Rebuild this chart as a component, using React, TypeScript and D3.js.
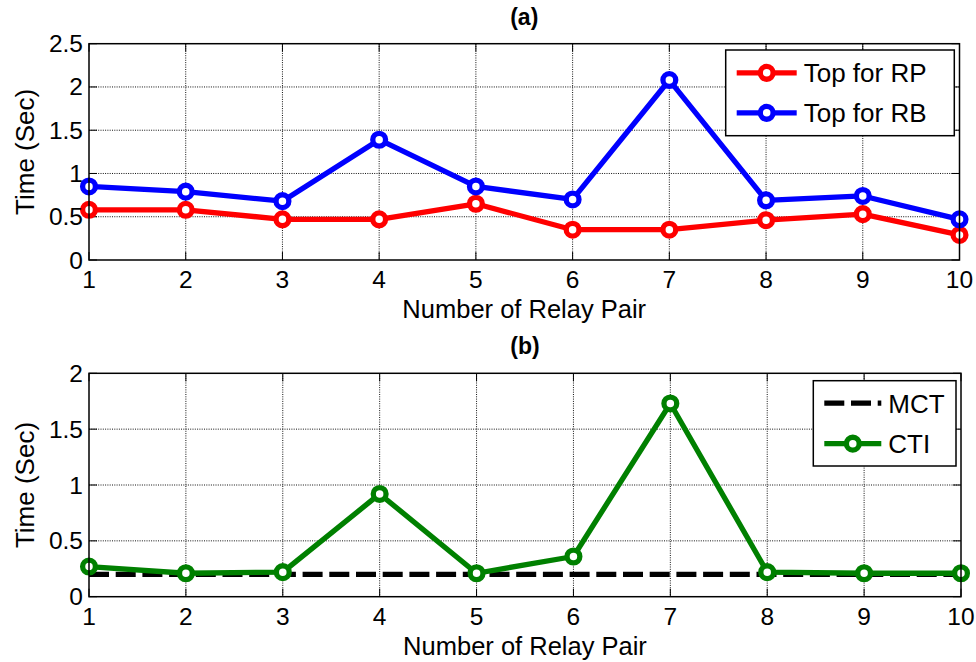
import React from "react";
import * as d3 from "d3";

// relay pair numbers (x axis)
const pairs = [1, 2, 3, 4, 5, 6, 7, 8, 9, 10];

// (a) operating times
const topRP = [0.58, 0.58, 0.47, 0.47, 0.65, 0.35, 0.35, 0.46, 0.53, 0.29];
const topRB = [0.85, 0.79, 0.68, 1.39, 0.85, 0.7, 2.08, 0.69, 0.74, 0.47];

// (b) coordination intervals
const mct = [0.2, 0.2, 0.2, 0.2, 0.2, 0.2, 0.2, 0.2, 0.2, 0.2];
const cti = [0.27, 0.21, 0.22, 0.92, 0.21, 0.36, 1.73, 0.22, 0.21, 0.21];

const yTicksA = [0, 0.5, 1, 1.5, 2, 2.5];
const yTicksB = [0, 0.5, 1, 1.5, 2];

const FONT = "Arial, 'Liberation Sans', Helvetica, sans-serif";

type Series = {
  name: string;
  values: number[];
  color: string;
  dashed?: boolean;
  marker?: boolean;
};

type LegendBox = { x: number; y: number; w: number; h: number; rowH: number };

const LW = 5.3;

const Panel = ({
  title,
  top,
  bottom,
  left,
  right,
  yMax,
  yTicks,
  series,
  legend,
}: {
  title: string;
  top: number;
  bottom: number;
  left: number;
  right: number;
  yMax: number;
  yTicks: number[];
  series: Series[];
  legend: LegendBox;
}) => {
  const x = d3.scaleLinear().domain([1, 10]).range([left, right]);
  const y = d3.scaleLinear().domain([0, yMax]).range([bottom, top]);
  const tick = 8;

  const line = (vals: number[]) =>
    d3
      .line<number>()
      .x((d, i) => x(pairs[i]))
      .y((d) => y(d))(vals) || "";

  return (
    <g fontFamily={FONT}>
      {/* title */}
      <text x={(left + right) / 2} y={top - 19} textAnchor="middle" fontSize={23} fontWeight="bold">
        {title}
      </text>

      {/* grid */}
      {pairs.slice(1, -1).map((p) => (
        <line key={"gx" + p} x1={x(p)} x2={x(p)} y1={top} y2={bottom} stroke="#111" strokeWidth={1} strokeDasharray="1,1.3" />
      ))}
      {yTicks.slice(1, -1).map((t) => (
        <line key={"gy" + t} x1={left} x2={right} y1={y(t)} y2={y(t)} stroke="#111" strokeWidth={1} strokeDasharray="1,1.3" />
      ))}

      {/* inner ticks on all four sides */}
      {pairs.map((p) => (
        <g key={"tx" + p}>
          <line x1={x(p)} x2={x(p)} y1={bottom} y2={bottom - tick} stroke="#000" />
          <line x1={x(p)} x2={x(p)} y1={top} y2={top + tick} stroke="#000" />
        </g>
      ))}
      {yTicks.map((t) => (
        <g key={"ty" + t}>
          <line x1={left} x2={left + tick} y1={y(t)} y2={y(t)} stroke="#000" />
          <line x1={right} x2={right - tick} y1={y(t)} y2={y(t)} stroke="#000" />
        </g>
      ))}

      {/* series lines */}
      {series.map((s) => (
        <path
          key={"l" + s.name}
          d={line(s.values)}
          fill="none"
          stroke={s.color}
          strokeWidth={LW}
          strokeDasharray={s.dashed ? "20,6.7" : undefined}
          strokeLinejoin="round"
        />
      ))}
      {series
        .filter((s) => s.marker)
        .map((s) =>
          s.values.map((v, i) => (
            <circle key={s.name + i} cx={x(pairs[i])} cy={y(v)} r={6.4} fill="#fff" stroke={s.color} strokeWidth={LW} />
          ))
        )}

      {/* axes box */}
      <rect x={left} y={top} width={right - left} height={bottom - top} fill="none" stroke="#000" strokeWidth={1.5} />

      {/* tick labels */}
      {pairs.map((p) => (
        <text key={"lx" + p} x={x(p)} y={bottom + 28} textAnchor="middle" fontSize={24.5}>
          {p}
        </text>
      ))}
      {yTicks.map((t) => (
        <text key={"ly" + t} x={left - 6} y={y(t) + 8.5} textAnchor="end" fontSize={24.5}>
          {t}
        </text>
      ))}

      {/* axis labels */}
      <text x={(left + right) / 2} y={bottom + 58} textAnchor="middle" fontSize={25.5}>
        Number of Relay Pair
      </text>
      <text
        transform={`translate(${left - 55},${(top + bottom) / 2}) rotate(-90)`}
        textAnchor="middle"
        fontSize={26}
      >
        Time (Sec)
      </text>

      {/* legend */}
      <rect x={legend.x} y={legend.y} width={legend.w} height={legend.h} fill="#fff" stroke="#000" strokeWidth={1.5} />
      {series.map((s, i) => {
        const cy = legend.y + legend.h / 2 + (i - (series.length - 1) / 2) * legend.rowH;
        const x0 = legend.x + 11;
        const x1 = x0 + (legend.w > 200 ? 60 : 57);
        return (
          <g key={"lg" + s.name}>
            <line
              x1={x0}
              x2={x1}
              y1={cy}
              y2={cy}
              stroke={s.color}
              strokeWidth={LW}
              strokeDasharray={s.dashed ? "20,6.7" : undefined}
            />
            {s.marker && (
              <circle cx={(x0 + x1) / 2} cy={cy} r={6.4} fill="#fff" stroke={s.color} strokeWidth={LW} />
            )}
            <text x={x1 + 7} y={cy + 9.5} fontSize={26}>
              {s.name}
            </text>
          </g>
        );
      })}
    </g>
  );
};

export default function App() {
  return (
    <svg
      width={976}
      height={662}
      style={{ position: "absolute", left: 0, top: 0, background: "#fff" }}
    >
      <rect width={976} height={662} fill="#fff" />
      <Panel
        title="(a)"
        top={43.7}
        bottom={260}
        left={89}
        right={959.5}
        yMax={2.5}
        yTicks={yTicksA}
        series={[
          { name: "Top for RP", values: topRP, color: "#ff0000", marker: true },
          { name: "Top for RB", values: topRB, color: "#0000ff", marker: true },
        ]}
        legend={{ x: 725.7, y: 50, w: 228.6, h: 85.7, rowH: 40 }}
      />
      <Panel
        title="(b)"
        top={373.3}
        bottom={596.7}
        left={89}
        right={961}
        yMax={2}
        yTicks={yTicksB}
        series={[
          { name: "MCT", values: mct, color: "#000000", dashed: true },
          { name: "CTI", values: cti, color: "#008000", marker: true },
        ]}
        legend={{ x: 813.3, y: 380.7, w: 142.7, h: 85.3, rowH: 40.6 }}
      />
    </svg>
  );
}
